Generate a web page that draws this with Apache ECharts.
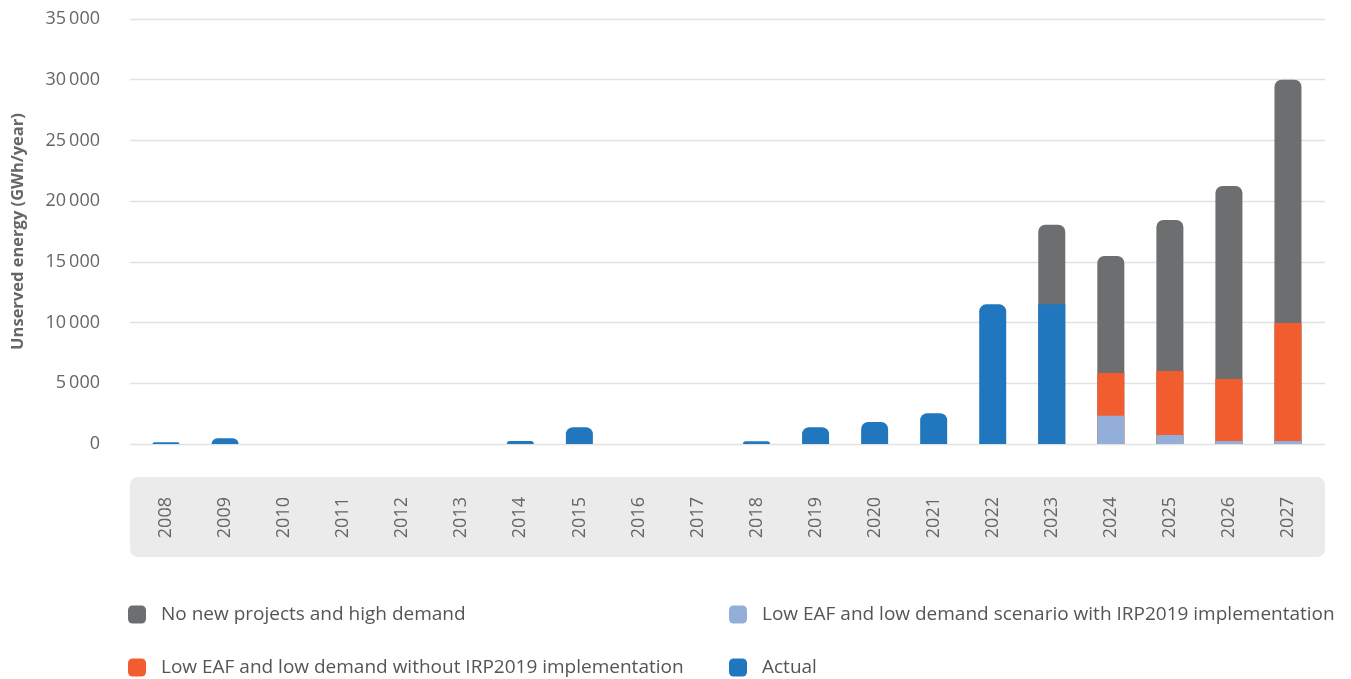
<!DOCTYPE html>
<html>
<head>
<meta charset="utf-8">
<script src="https://cdn.jsdelivr.net/npm/echarts@6/dist/echarts.min.js"></script>
<style>
html,body{margin:0;padding:0;background:#fff;}
#chart{width:1351px;height:679px;}
</style>
</head>
<body>
<div id="chart"></div>
<script>
const years = ['2008','2009','2010','2011','2012','2013','2014','2015','2016','2017','2018','2019','2020','2021','2022','2023','2024','2025','2026','2027'];
const actual = [150, 470, 0, 0, 0, 0, 250, 1380, 0, 0, 220, 1375, 1810, 2530, 11500, 11500, null, null, null, null];
const noNewHighDemand = [null, null, null, null, null, null, null, null, null, null, null, null, null, null, null, 18060, 15490, 18450, 21250, 30000];
const lowEafWithoutIrp = [null, null, null, null, null, null, null, null, null, null, null, null, null, null, null, null, 5850, 6010, 5350, 9970];
const lowEafWithIrp = [null, null, null, null, null, null, null, null, null, null, null, null, null, null, null, null, 2330, 740, 250, 250];
const yTicks = [0, 5000, 10000, 15000, 20000, 25000, 30000, 35000];

const NAME_GRAY = 'No new projects and high demand';
const NAME_LB = 'Low EAF and low demand scenario with IRP2019 implementation';
const NAME_OR = 'Low EAF and low demand without IRP2019 implementation';
const NAME_ACT = 'Actual';

const C_GRAY = '#6d6e70', C_LB = '#93aed9', C_OR = '#f15d2e', C_ACT = '#2177bd';
const FONT = '"Open Sans", Lato, sans-serif';
const R = 7;

const chart = echarts.init(document.getElementById('chart'), null, {renderer:'canvas'});

function fmt(v){ return String(v).replace(/\B(?=(\d{3})+(?!\d))/g, '\u2009'); }

const actualData = actual.map((v, i) => ({
  value: v,
  itemStyle: { borderRadius: noNewHighDemand[i] != null ? 0 : [R, R, 0, 0] }
}));

function legend(name, left, top){
  return {
    data: [name], left: left, top: top, orient: 'horizontal', padding: 0,
    itemWidth: 18, itemHeight: 18, icon: 'roundRect', selectedMode: false,
    textStyle: { fontFamily: FONT, fontSize: 19, color: '#555', padding: [0,0,0,10] }
  };
}

const option = {
  backgroundColor: '#fff',
  animation: false,
  graphic: [{
    type: 'rect', z: -10, silent: true,
    shape: { x: 130, y: 477, width: 1195, height: 80, r: 8 },
    style: { fill: '#ebebeb' }
  }],
  legend: [
    legend(NAME_GRAY, 128, 605),
    legend(NAME_LB, 729, 605),
    legend(NAME_OR, 128, 658),
    legend(NAME_ACT, 729, 658)
  ],
  grid: [
    { left: 130, right: 26, top: 19, bottom: 235 },
    { left: 136.5, right: 33.5, top: 19, bottom: 235 }
  ],
  xAxis: [
    { type: 'category', gridIndex: 0, data: years, show: false },
    {
      type: 'category', gridIndex: 1, data: years,
      axisLine: { show: false }, axisTick: { show: false },
      axisLabel: { rotate: 90, margin: 53, fontFamily: FONT, fontSize: 18, color: '#666' }
    }
  ],
  yAxis: [
    {
      type: 'value', gridIndex: 0, min: yTicks[0], max: yTicks[yTicks.length-1], interval: 5000,
      name: 'Unserved energy (GWh/year)', nameLocation: 'middle', nameRotate: 90, nameGap: 103,
      nameTextStyle: { fontFamily: FONT, fontSize: 16.5, fontWeight: 'bold', color: '#666' },
      axisLine: { show: false }, axisTick: { show: false },
      axisLabel: { margin: 30, fontFamily: FONT, fontSize: 18, color: '#666', formatter: fmt },
      splitLine: { lineStyle: { color: '#e2e2e2', width: 1.3 } }
    },
    {
      type: 'value', gridIndex: 1, min: yTicks[0], max: yTicks[yTicks.length-1], interval: 5000,
      show: false, splitLine: { show: false }
    }
  ],
  series: [
    { name: NAME_GRAY, type: 'bar', xAxisIndex: 1, yAxisIndex: 1, data: noNewHighDemand,
      barWidth: 27, barGap: '-100%', itemStyle: { color: C_GRAY, borderRadius: [R, R, 0, 0] } },
    { name: NAME_OR, type: 'bar', xAxisIndex: 1, yAxisIndex: 1, data: lowEafWithoutIrp,
      barWidth: 27, barGap: '-100%', itemStyle: { color: C_OR } },
    { name: NAME_LB, type: 'bar', xAxisIndex: 1, yAxisIndex: 1, data: lowEafWithIrp,
      barWidth: 27, barGap: '-100%', itemStyle: { color: C_LB } },
    { name: NAME_ACT, type: 'bar', xAxisIndex: 1, yAxisIndex: 1, data: actualData,
      barWidth: 27, barGap: '-100%', itemStyle: { color: C_ACT } }
  ]
};
chart.setOption(option);
</script>
</body>
</html>
